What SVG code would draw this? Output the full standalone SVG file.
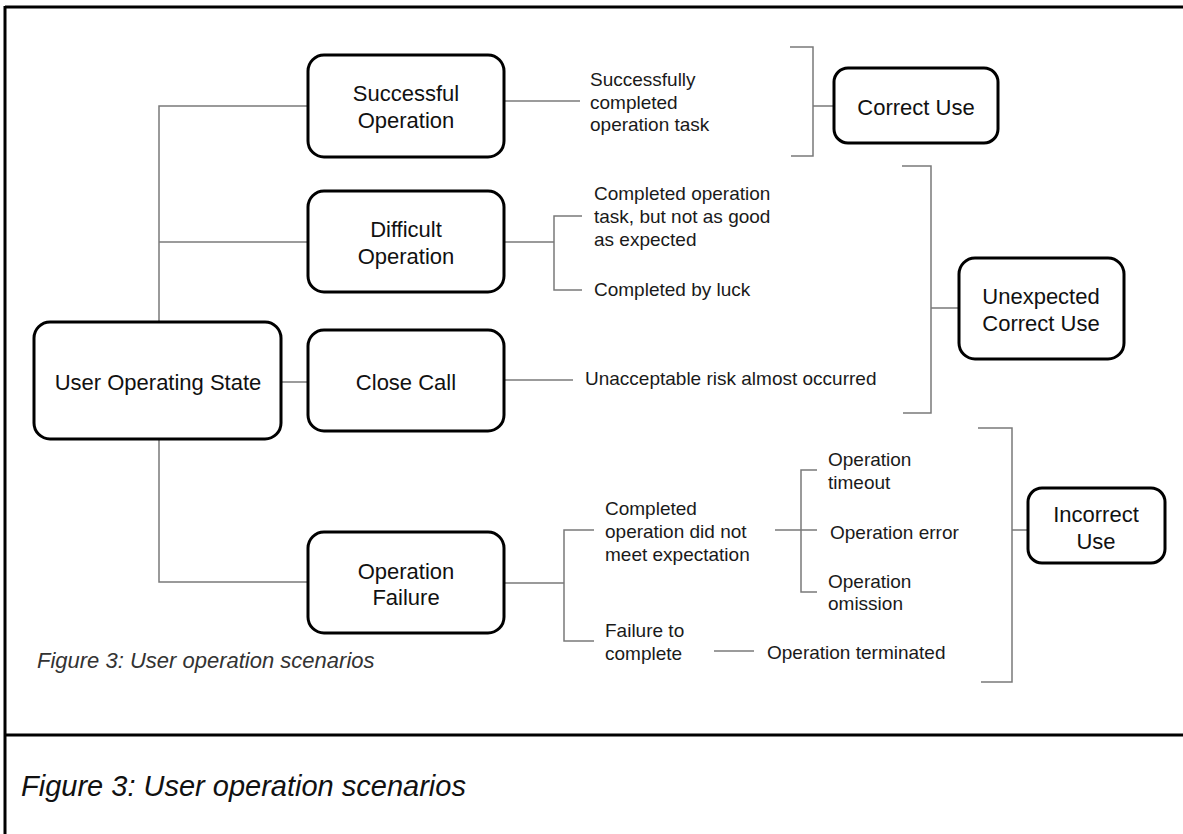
<svg xmlns="http://www.w3.org/2000/svg" width="1183" height="834" viewBox="0 0 1183 834">
<style>
.frame{stroke:#000;stroke-width:3;fill:none}
.box{fill:#fff;stroke:#000;stroke-width:3}
.c{stroke:#7a7a7a;stroke-width:1.5;fill:none}
.bt{font-family:"Liberation Sans",Arial,sans-serif;font-size:22px;fill:#111;text-anchor:middle}
.dt{font-family:"Liberation Sans",Arial,sans-serif;font-size:19px;fill:#1a1a1a}
.cap{font-family:"Liberation Sans",Arial,sans-serif;font-style:italic;fill:#333}
</style>
<rect width="1183" height="834" fill="#fff"/>
<g id="frame">
<line class="frame" x1="5" y1="7" x2="1183" y2="7"/>
<line class="frame" x1="5" y1="6" x2="5" y2="834"/>
<line class="frame" x1="5" y1="735" x2="1183" y2="735"/>
</g>
<g id="connectors">
<path class="c" d="M159 322 V106 H308"/>
<path class="c" d="M159 242 H308"/>
<path class="c" d="M159 439 V582 H308"/>
<path class="c" d="M281 382 H308"/>
<path class="c" d="M504 101 H580"/>
<path class="c" d="M504 242 H554 M582 216 H554 V290 H582"/>
<path class="c" d="M504 380 H573"/>
<path class="c" d="M504 583 H564 M594 530 H564 V641 H594"/>
<path class="c" d="M775 530 H817 M817 470 H801 V592 H817"/>
<path class="c" d="M714 651 H754"/>
<path class="c" d="M790 47 H813 V156 H791 M813 106 H834"/>
<path class="c" d="M902 166 H931 V413 H903 M931 308 H959"/>
<path class="c" d="M978 428 H1012 V682 H981 M1012 530 H1028"/>
</g>
<g id="user-operating-state">
<rect class="box" x="34" y="322" width="247" height="117" rx="16"/>
<text class="bt" x="158" y="390">User Operating State</text>
</g>
<g id="successful-operation">
<rect class="box" x="308" y="55" width="196" height="102" rx="16"/>
<text class="bt" x="406" y="101">Successful</text>
<text class="bt" x="406" y="128">Operation</text>
</g>
<g id="difficult-operation">
<rect class="box" x="308" y="191" width="196" height="101" rx="16"/>
<text class="bt" x="406" y="237">Difficult</text>
<text class="bt" x="406" y="264">Operation</text>
</g>
<g id="close-call">
<rect class="box" x="308" y="330" width="196" height="101" rx="16"/>
<text class="bt" x="406" y="390">Close Call</text>
</g>
<g id="operation-failure">
<rect class="box" x="308" y="532" width="196" height="101" rx="16"/>
<text class="bt" x="406" y="579">Operation</text>
<text class="bt" x="406" y="605">Failure</text>
</g>
<g id="correct-use">
<rect class="box" x="834" y="68" width="164" height="75" rx="14"/>
<text class="bt" x="916" y="115">Correct Use</text>
</g>
<g id="unexpected-correct-use">
<rect class="box" x="959" y="258" width="165" height="101" rx="16"/>
<text class="bt" x="1041" y="304">Unexpected</text>
<text class="bt" x="1041" y="331">Correct Use</text>
</g>
<g id="incorrect-use">
<rect class="box" x="1028" y="488" width="137" height="75" rx="14"/>
<text class="bt" x="1096" y="522">Incorrect</text>
<text class="bt" x="1096" y="549">Use</text>
</g>
<g id="labels">
<text class="dt" x="590" y="86">Successfully</text>
<text class="dt" x="590" y="109">completed</text>
<text class="dt" x="590" y="131">operation task</text>
<text class="dt" x="594" y="200">Completed operation</text>
<text class="dt" x="594" y="223">task, but not as good</text>
<text class="dt" x="594" y="246">as expected</text>
<text class="dt" x="594" y="296">Completed by luck</text>
<text class="dt" x="585" y="385">Unacceptable risk almost occurred</text>
<text class="dt" x="605" y="515">Completed</text>
<text class="dt" x="605" y="538">operation did not</text>
<text class="dt" x="605" y="561">meet expectation</text>
<text class="dt" x="828" y="466">Operation</text>
<text class="dt" x="828" y="489">timeout</text>
<text class="dt" x="830" y="539">Operation error</text>
<text class="dt" x="828" y="588">Operation</text>
<text class="dt" x="828" y="610">omission</text>
<text class="dt" x="605" y="637">Failure to</text>
<text class="dt" x="605" y="660">complete</text>
<text class="dt" x="767" y="659">Operation terminated</text>
<text class="cap" x="37" y="668" font-size="22">Figure 3: User operation scenarios</text>
<text class="cap" x="21" y="796" font-size="29" style="fill:#111">Figure 3: User operation scenarios</text>
</g>
</svg>
